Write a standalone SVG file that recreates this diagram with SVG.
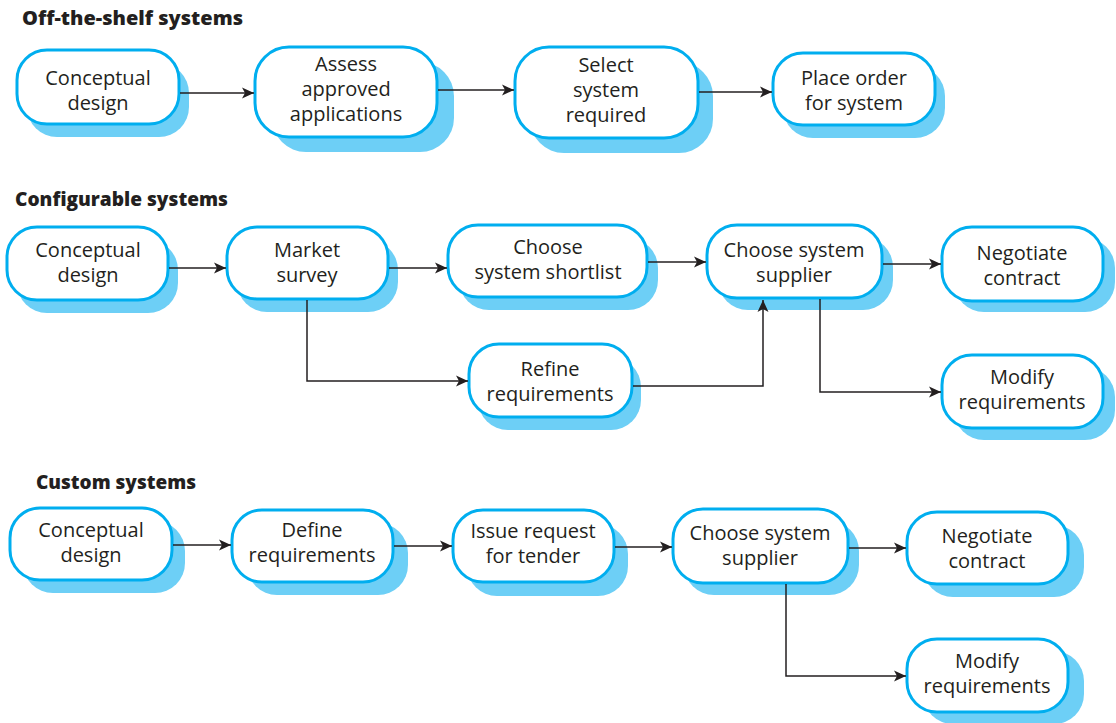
<svg xmlns="http://www.w3.org/2000/svg" width="1116" height="723" viewBox="0 0 1116 723">
<style>
.sh{fill:#6dcff6;}
.bx{fill:#ffffff;stroke:#00aeef;stroke-width:3;}
.t{font-family:"Open Sans","Liberation Sans",sans-serif;font-size:20px;fill:#231f20;text-anchor:middle;}
.h{font-family:"Open Sans","Liberation Sans",sans-serif;font-size:19px;font-weight:800;fill:#231f20;}
.c{fill:none;stroke:#231f20;stroke-width:1.5;}
</style>
<defs>
<marker id="ah" markerUnits="userSpaceOnUse" markerWidth="14" markerHeight="12" refX="12" refY="6" orient="auto">
<path d="M0,0.5 L12,6 L0,11.5 L3,6 Z" fill="#231f20"/>
</marker>
</defs>
<rect width="1116" height="723" fill="#ffffff"/>
<text class="h" x="22" y="25" textLength="221" lengthAdjust="spacingAndGlyphs">Off-the-shelf systems</text>
<text class="h" x="15" y="206" textLength="213" lengthAdjust="spacingAndGlyphs">Configurable systems</text>
<text class="h" x="36" y="489" textLength="160" lengthAdjust="spacingAndGlyphs">Custom systems</text>

<g id="n1"><rect class="sh" x="27" y="63" width="162" height="74" rx="30"/><rect class="bx" x="17" y="50" width="162" height="74" rx="30"/><text class="t" x="98" y="85">Conceptual</text><text class="t" x="98" y="110">design</text></g>
<g id="n2"><rect class="sh" x="272" y="62" width="182" height="90" rx="34"/><rect class="bx" x="255" y="47" width="182" height="90" rx="34"/><text class="t" x="346" y="71">Assess</text><text class="t" x="346" y="96">approved</text><text class="t" x="346" y="121">applications</text></g>
<g id="n3"><rect class="sh" x="530" y="62" width="183" height="91" rx="34"/><rect class="bx" x="515" y="47" width="183" height="91" rx="34"/><text class="t" x="606" y="72">Select</text><text class="t" x="606" y="97">system</text><text class="t" x="606" y="122">required</text></g>
<g id="n4"><rect class="sh" x="783" y="66" width="162" height="72" rx="30"/><rect class="bx" x="773" y="53" width="162" height="72" rx="30"/><text class="t" x="854" y="85">Place order</text><text class="t" x="854" y="110">for system</text></g>

<g id="c1"><rect class="sh" x="17" y="240" width="161" height="73" rx="30"/><rect class="bx" x="7" y="227" width="161" height="73" rx="30"/><text class="t" x="88" y="257">Conceptual</text><text class="t" x="88" y="282">design</text></g>
<g id="c2"><rect class="sh" x="237" y="240" width="161" height="72" rx="30"/><rect class="bx" x="227" y="227" width="161" height="72" rx="30"/><text class="t" x="307" y="257">Market</text><text class="t" x="307" y="282">survey</text></g>
<g id="c3"><rect class="sh" x="459" y="238" width="199" height="72" rx="30"/><rect class="bx" x="448" y="225" width="199" height="72" rx="30"/><text class="t" x="548" y="254">Choose</text><text class="t" x="548" y="279">system shortlist</text></g>
<g id="c4"><rect class="sh" x="718" y="237" width="175" height="73" rx="30"/><rect class="bx" x="707" y="225" width="175" height="73" rx="30"/><text class="t" x="794" y="257">Choose system</text><text class="t" x="794" y="282">supplier</text></g>
<g id="c5"><rect class="sh" x="954" y="238" width="161" height="74" rx="30"/><rect class="bx" x="942" y="227" width="161" height="74" rx="30"/><text class="t" x="1022" y="260">Negotiate</text><text class="t" x="1022" y="285">contract</text></g>
<g id="c6"><rect class="sh" x="478" y="357" width="163" height="73" rx="30"/><rect class="bx" x="469" y="344" width="163" height="73" rx="30"/><text class="t" x="550" y="376">Refine</text><text class="t" x="550" y="401">requirements</text></g>
<g id="c7"><rect class="sh" x="954" y="367" width="161" height="73" rx="30"/><rect class="bx" x="942" y="355" width="161" height="73" rx="30"/><text class="t" x="1022" y="384">Modify</text><text class="t" x="1022" y="409">requirements</text></g>

<g id="k1"><rect class="sh" x="23" y="521" width="162" height="72" rx="30"/><rect class="bx" x="10" y="508" width="162" height="72" rx="30"/><text class="t" x="91" y="537">Conceptual</text><text class="t" x="91" y="562">design</text></g>
<g id="k2"><rect class="sh" x="247" y="523" width="161" height="72" rx="30"/><rect class="bx" x="232" y="510" width="161" height="72" rx="30"/><text class="t" x="312" y="537">Define</text><text class="t" x="312" y="562">requirements</text></g>
<g id="k3"><rect class="sh" x="467" y="524" width="161" height="72" rx="30"/><rect class="bx" x="453" y="510" width="161" height="72" rx="30"/><text class="t" x="533" y="538">Issue request</text><text class="t" x="533" y="563">for tender</text></g>
<g id="k4"><rect class="sh" x="684" y="521" width="175" height="74" rx="30"/><rect class="bx" x="673" y="509" width="175" height="74" rx="30"/><text class="t" x="760" y="540">Choose system</text><text class="t" x="760" y="565">supplier</text></g>
<g id="k5"><rect class="sh" x="923" y="525" width="161" height="72" rx="30"/><rect class="bx" x="907" y="512" width="161" height="72" rx="30"/><text class="t" x="987" y="543">Negotiate</text><text class="t" x="987" y="568">contract</text></g>
<g id="k6"><rect class="sh" x="923" y="651" width="161" height="73" rx="30"/><rect class="bx" x="907" y="639" width="161" height="73" rx="30"/><text class="t" x="987" y="668">Modify</text><text class="t" x="987" y="693">requirements</text></g>

<g id="connectors">
<line class="c" x1="180" y1="93" x2="254" y2="93" marker-end="url(#ah)"/>
<line class="c" x1="438" y1="90" x2="514" y2="90" marker-end="url(#ah)"/>
<line class="c" x1="699" y1="92" x2="772" y2="92" marker-end="url(#ah)"/>

<line class="c" x1="169" y1="268" x2="226" y2="268" marker-end="url(#ah)"/>
<line class="c" x1="389" y1="268" x2="447" y2="268" marker-end="url(#ah)"/>
<line class="c" x1="648" y1="262" x2="706" y2="262" marker-end="url(#ah)"/>
<line class="c" x1="883" y1="264" x2="941" y2="264" marker-end="url(#ah)"/>
<polyline class="c" points="307,300 307,381 468,381" marker-end="url(#ah)"/>
<polyline class="c" points="633,386 763,386 763,300" marker-end="url(#ah)"/>
<polyline class="c" points="820,299 820,392 941,392" marker-end="url(#ah)"/>

<line class="c" x1="173" y1="545" x2="231" y2="545" marker-end="url(#ah)"/>
<line class="c" x1="394" y1="546" x2="452" y2="546" marker-end="url(#ah)"/>
<line class="c" x1="615" y1="547" x2="672" y2="547" marker-end="url(#ah)"/>
<line class="c" x1="849" y1="548" x2="906" y2="548" marker-end="url(#ah)"/>
<polyline class="c" points="786,584 786,676 906,676" marker-end="url(#ah)"/>
</g>
</svg>
